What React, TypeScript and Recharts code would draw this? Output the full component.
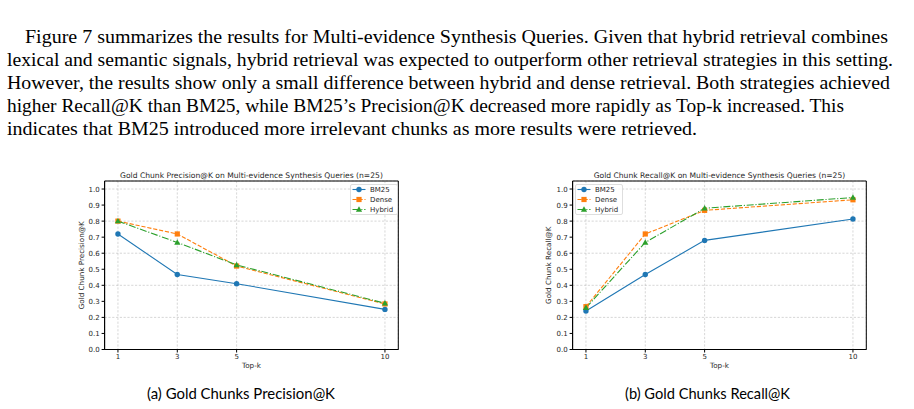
import React from 'react'
import {
  LineChart,
  Line,
  XAxis,
  YAxis,
  CartesianGrid,
  Legend,
  ReferenceArea,
} from 'recharts'

// Top-k values on the x axis
const topK = [1, 3, 5, 10]

// Precision@K per retrieval strategy
const precisionBM25 = [0.72, 0.467, 0.41, 0.25]
const precisionDense = [0.8, 0.72, 0.52, 0.284]
const precisionHybrid = [0.8, 0.667, 0.527, 0.288]

// Recall@K per retrieval strategy
const recallBM25 = [0.24, 0.467, 0.68, 0.813]
const recallDense = [0.267, 0.72, 0.867, 0.933]
const recallHybrid = [0.26, 0.667, 0.88, 0.947]

const yTicks = [0, 0.1, 0.2, 0.3, 0.4, 0.5, 0.6, 0.7, 0.8, 0.9, 1.0]
const xDomain: [number, number] = [0.55, 10.45]
const yDomain: [number, number] = [0, 1.05]

const paragraphLines = [
  'Figure 7 summarizes the results for Multi-evidence Synthesis Queries. Given that hybrid retrieval combines',
  'lexical and semantic signals, hybrid retrieval was expected to outperform other retrieval strategies in this setting.',
  'However, the results show only a small difference between hybrid and dense retrieval. Both strategies achieved',
  'higher Recall@K than BM25, while BM25\u2019s Precision@K decreased more rapidly as Top-k increased. This',
  'indicates that BM25 introduced more irrelevant chunks as more results were retrieved.',
]

type Marker = 'circle' | 'square' | 'triangle'

interface SeriesDef {
  key: 'bm25' | 'dense' | 'hybrid'
  name: string
  color: string
  dash?: string
  marker: Marker
}

const SERIES: SeriesDef[] = [
  { key: 'bm25', name: 'BM25', color: '#1f77b4', marker: 'circle' },
  { key: 'dense', name: 'Dense', color: '#ff7f0e', dash: '4.2 1.8', marker: 'square' },
  { key: 'hybrid', name: 'Hybrid', color: '#2ca02c', dash: '7 1.8 1.1 1.8', marker: 'triangle' },
]

const FONT = '"DejaVu Sans", sans-serif'
const TEXT_COLOR = '#262626'

function buildRows(bm25: number[], dense: number[], hybrid: number[]) {
  return topK.map((k, i) => ({ k, bm25: bm25[i], dense: dense[i], hybrid: hybrid[i] }))
}

function markerShape(marker: Marker, cx: number, cy: number, color: string, key?: string) {
  if (marker === 'square') {
    return <rect key={key} x={cx - 2.6} y={cy - 2.6} width={5.2} height={5.2} fill={color} />
  }
  if (marker === 'triangle') {
    const pts = `${cx},${cy - 3.2} ${cx + 3.1},${cy + 2.2} ${cx - 3.1},${cy + 2.2}`
    return <polygon key={key} points={pts} fill={color} />
  }
  return <circle key={key} cx={cx} cy={cy} r={2.7} fill={color} />
}

// matplotlib-style legend box
function LegendBox() {
  const w = 48
  const h = 31
  return (
    <svg width={w} height={h} style={{ display: 'block' }}>
      <rect x={0.5} y={0.5} width={w - 1} height={h - 1} rx={1.5} fill="#ffffff" fillOpacity={0.8} stroke="#d6d6d6" strokeWidth={0.8} />
      {SERIES.map((s, i) => {
        const y = 5.5 + i * 10
        return (
          <g key={s.key}>
            <line x1={2.5} x2={15.5} y1={y} y2={y} stroke={s.color} strokeWidth={1.1} strokeDasharray={s.dash} />
            {markerShape(s.marker, 9, y, s.color)}
            <text x={20} y={y + 2.6} fontSize={7} fontFamily={FONT} fill={TEXT_COLOR}>
              {s.name}
            </text>
          </g>
        )
      })}
    </svg>
  )
}

interface MetricChartProps {
  title: string
  yLabel: string
  rows: ReturnType<typeof buildRows>
  left: number
  marginLeft: number
  marginRight: number
  yLabelOffset: number
  legendLeft: number
}

function MetricChart({ title, yLabel, rows, left, marginLeft, marginRight, yLabelOffset, legendLeft }: MetricChartProps) {
  const tickStyle = { fill: TEXT_COLOR, fontSize: 7, fontFamily: FONT }
  return (
    <div style={{ position: 'absolute', left, top: 160 }}>
      <LineChart
        width={370}
        height={215}
        data={rows}
        margin={{ top: 21, right: marginRight, bottom: 0.5, left: marginLeft }}
      >
        <CartesianGrid stroke="#b0b0b0" strokeOpacity={0.85} strokeWidth={0.6} strokeDasharray="2.2 1.6" />
        <XAxis
          dataKey="k"
          type="number"
          domain={xDomain}
          ticks={topK}
          height={25}
          tick={tickStyle}
          tickSize={3}
          tickMargin={1.5}
          stroke="#000"
          axisLine={{ stroke: '#000', strokeWidth: 1 }}
          label={{ value: 'Top-k', position: 'insideBottom', offset: 6.2, fill: TEXT_COLOR, fontSize: 7.2, fontFamily: FONT }}
        />
        <YAxis
          type="number"
          domain={yDomain}
          ticks={yTicks}
          width={30}
          tick={tickStyle}
          tickFormatter={(v: number) => v.toFixed(1)}
          tickSize={3}
          tickMargin={2}
          stroke="#000"
          axisLine={{ stroke: '#000', strokeWidth: 1 }}
          label={{
            value: yLabel,
            angle: -90,
            position: 'insideLeft',
            offset: yLabelOffset,
            fill: TEXT_COLOR,
            fontSize: 7.2,
            fontFamily: FONT,
            style: { textAnchor: 'middle' },
          }}
        />
        {/* axes frame, with the title above it */}
        <ReferenceArea
          x1={xDomain[0]}
          x2={xDomain[1]}
          y1={yDomain[0]}
          y2={yDomain[1]}
          fill="none"
          stroke="#000"
          strokeWidth={1}
          ifOverflow="visible"
          label={{ value: title, position: 'top', offset: 3.3, fill: TEXT_COLOR, fontSize: 7.6, fontFamily: FONT }}
        />
        <Legend
          layout="horizontal"
          verticalAlign="middle"
          align="center"
          content={() => <LegendBox />}
          wrapperStyle={{ left: legendLeft, top: 24, width: 48, height: 31 }}
        />
        {SERIES.map(s => (
          <Line
            key={s.key}
            type="linear"
            dataKey={s.key}
            name={s.name}
            stroke={s.color}
            strokeWidth={1.1}
            strokeDasharray={s.dash}
            dot={(p: any) => markerShape(s.marker, p.cx, p.cy, s.color, `${s.key}-${p.index}`)}
            activeDot={false}
            isAnimationActive={false}
          />
        ))}
      </LineChart>
    </div>
  )
}

const precisionRows = buildRows(precisionBM25, precisionDense, precisionHybrid)
const recallRows = buildRows(recallBM25, recallDense, recallHybrid)

export default function App() {
  const lineStarts = [25, 7, 7, 7, 7]
  const lineWidths = [863, 886, 883, 837, 690]
  return (
    <div style={{ position: 'absolute', left: 0, top: 0, width: 914, height: 409, background: '#fff', overflow: 'hidden' }}>
      <svg width={914} height={150} style={{ position: 'absolute', left: 0, top: 0 }}>
        {paragraphLines.map((line, i) => (
          <text
            key={i}
            x={lineStarts[i]}
            y={43 + i * 23}
            fontSize={18.6}
            fontFamily='"Liberation Serif", "Times New Roman", serif'
            fill="#000"
            textLength={lineWidths[i]}
            lengthAdjust="spacingAndGlyphs"
          >
            {line}
          </text>
        ))}
      </svg>

      <MetricChart
        title="Gold Chunk Precision@K on Multi-evidence Synthesis Queries (n=25)"
        yLabel="Gold Chunk Precision@K"
        rows={precisionRows}
        left={40}
        marginLeft={34.6}
        marginRight={11.7}
        yLabelOffset={7}
        legendLeft={309.5}
      />
      <MetricChart
        title="Gold Chunk Recall@K on Multi-evidence Synthesis Queries (n=25)"
        yLabel="Gold Chunk Recall@K"
        rows={recallRows}
        left={510}
        marginLeft={32.6}
        marginRight={13.7}
        yLabelOffset={6}
        legendLeft={65}
      />

      <svg width={914} height={30} style={{ position: 'absolute', left: 0, top: 380 }}>
        <text x={147} y={19} fontSize={15} fontFamily='Lato, "Open Sans", sans-serif' fill="#000" textLength={188} lengthAdjust="spacingAndGlyphs">
          (a) Gold Chunks Precision@K
        </text>
        <text x={625} y={19} fontSize={15} fontFamily='Lato, "Open Sans", sans-serif' fill="#000" textLength={165} lengthAdjust="spacingAndGlyphs">
          (b) Gold Chunks Recall@K
        </text>
      </svg>
    </div>
  )
}
